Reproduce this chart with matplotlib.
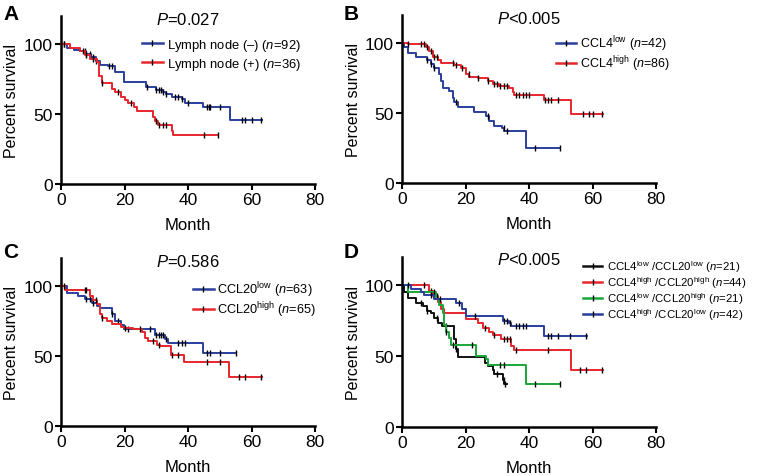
import numpy as np
import matplotlib.pyplot as plt
from matplotlib.lines import Line2D

plt.rcParams['font.family'] = ['Liberation Sans', 'DejaVu Sans']
plt.rcParams['mathtext.fontset'] = 'custom'
plt.rcParams['mathtext.rm'] = 'Liberation Sans'
plt.rcParams['mathtext.it'] = 'Liberation Sans:italic'

# ---- Panel A: lymph node status ----
a_neg_t = [0, 1.8, 4, 6, 8, 9.5, 11, 12.3, 14.9, 17, 19.8, 26.7, 30, 32, 33, 35, 38, 39, 44.6, 53.2]
a_neg_s = [100, 97, 96, 95, 93, 91, 88, 85, 84, 80, 73, 69, 67, 66, 64, 62, 61, 58, 55, 46]
a_neg_end = 63.2
a_neg_cens = [1, 7.5, 8, 9, 10, 11, 15, 16, 27, 30, 31, 31.5, 32, 33, 36, 37, 38, 40, 46, 46.5, 47, 50, 57, 58, 60, 63]

a_pos_t = [0, 2.8, 6, 7.5, 9, 11.2, 12, 12.8, 16, 17, 19, 20, 21, 23, 24, 29, 29.6, 30.7, 34.9, 35.4]
a_pos_s = [100, 97, 95, 92, 89, 87, 77, 72, 68, 66, 62, 60, 58, 55, 52, 48, 45, 42, 38, 35]
a_pos_end = 49.6
a_pos_cens = [1, 7, 8, 10, 13, 18, 22, 30, 31, 32, 33, 45, 49.6]

# ---- Panel B: CCL4 ----
b_low_t = [0, 0.7, 1.8, 4.4, 8, 9, 10, 11.8, 12.3, 12.8, 14.9, 16, 16.5, 17.5, 22.8, 26.5, 27.5, 29, 31.4, 32.2, 39]
b_low_s = [100, 97, 93, 90, 88, 85, 82, 78, 73, 68, 66, 61, 58, 54, 51, 48, 44, 41, 39, 37, 25]
b_low_end = 49.9
b_low_cens = [8, 9, 10, 17, 27, 32, 33, 42, 49.9]

b_high_t = [0, 1.8, 7.5, 8.6, 9.7, 11.2, 12.3, 16.5, 18.6, 20, 21.2, 23.8, 27, 28.6, 30.7, 33.8, 34.9, 35.4, 44.8, 53.2]
b_high_s = [100, 99, 97, 94, 90, 88, 86, 84, 82, 78, 76, 75, 73, 71, 69, 68, 65, 63, 59, 49]
b_high_end = 63.4
b_high_cens = [2, 6, 7, 8, 9, 10, 11, 16, 17, 19, 21, 24, 27, 29, 30, 31, 32, 33, 36, 37, 38, 39, 40, 45, 46, 47, 49, 57, 59, 60, 63]

# ---- Panel C: CCL20 ----
c_low_t = [0, 1.8, 5.5, 7.5, 9.7, 11.2, 12.3, 16, 17, 19, 19.8, 29.6, 32.7, 33.8, 44.8]
c_low_s = [100, 95, 93, 91, 88, 86, 84, 80, 75, 72, 69, 65, 62, 59, 52]
c_low_end = 55
c_low_cens = [8, 9, 10, 16, 18, 21, 28, 30, 31, 31.5, 32, 33, 37, 38, 39, 46, 47, 50, 55]

c_high_t = [0, 1.3, 9, 10, 11.2, 12.3, 12.8, 14.4, 16, 19, 20, 22.8, 25.4, 26.5, 27.5, 30.2, 31.2, 34.5, 38.7, 53]
c_high_s = [100, 97, 93, 90, 87, 80, 77, 75, 73, 71, 70, 69, 67, 63, 61, 58, 57, 51, 46, 35]
c_high_end = 63.2
c_high_cens = [1, 7.5, 8, 11, 13, 20, 25, 29, 31, 35, 37, 46, 50, 56, 58, 63]

# ---- Panel D: combined ----
d_ll_t = [0, 0.7, 1.8, 4.4, 6.5, 8, 9, 10, 11.2, 12.5, 16.5, 17, 17.5, 26, 27, 28.6, 29, 31.7, 32.2]
d_ll_s = [100, 95, 91, 87, 85, 82, 80, 77, 73, 71, 62, 55, 49, 45, 43, 40, 37, 33, 30]
d_ll_end = 33
d_ll_cens = [6, 8, 11, 14, 17, 30, 32, 32.5]

d_hh_t = [0, 8.6, 9.7, 11.2, 12.3, 13.3, 20.2, 23.8, 25.4, 27.5, 28.6, 31.2, 34.3, 35.4, 53.2]
d_hh_s = [100, 96, 92, 88, 83, 80, 76, 73, 70, 67, 65, 62, 57, 54, 40]
d_hh_end = 63.4
d_hh_cens = [7, 9, 11, 26, 29, 32, 33, 34, 36, 46, 56, 58, 63]

d_lh_t = [0, 1.8, 10.7, 11.8, 12.8, 13.3, 13.9, 14.9, 15.4, 23.3, 26.5, 27, 39]
d_lh_s = [100, 95, 90, 86, 80, 72, 67, 63, 58, 50, 48, 44, 30]
d_lh_end = 49.9
d_lh_cens = [10, 14, 16, 22, 31, 32, 42, 49.9]

d_hl_t = [0, 2.8, 6, 7, 10, 17, 19, 20.2, 31.7, 33.8, 34.3, 44.8]
d_hl_s = [100, 97, 95, 93, 90, 87, 83, 78, 75, 73, 71, 64]
d_hl_end = 58.3
d_hl_cens = [2, 9, 12, 18, 23, 32, 33, 34, 36, 37, 38, 39, 46, 47, 49, 53, 58]

p_texts = ['$P$=0.027', '$P$<0.005', '$P$=0.586', '$P$<0.005']

BLUE = '#2a3f9c'
RED = '#e8262b'
GREEN = '#1aa63a'
BLACK = '#111111'

fig = plt.figure(figsize=(7.57, 4.77), dpi=100)
W, H = 757.0, 477.0


def make_ax(x0, y0, y100):
    # x0: pixel of month 0, y0: pixel of 0 %, y100: pixel of 100 %
    pxm = 254.0 / 80
    pyp = (y0 - y100) / 100.0
    top = 120
    ax = fig.add_axes([x0 / W, 1 - y0 / H, 80 * pxm / W, top * pyp / H])
    ax.set_xlim(0, 80)
    ax.set_ylim(0, top)
    ax.spines['top'].set_visible(False)
    ax.spines['right'].set_visible(False)
    ax.spines['left'].set_linewidth(1.8)
    ax.spines['bottom'].set_linewidth(1.8)
    ax.set_xticks([0, 20, 40, 60, 80])
    ax.set_yticks([0, 50, 100])
    ax.tick_params(width=1.5, length=4, labelsize=12.5, pad=2)
    ax.set_xlabel('Month', fontsize=12, labelpad=7)
    ax.set_ylabel('Percent survival', fontsize=11.5, labelpad=3)
    return ax


def km(ax, t, s, end, cens, color):
    tt = list(t) + [end]
    ss = list(s) + [s[-1]]
    ax.step(tt, ss, where='post', color=color, lw=1.4, clip_on=False)
    idx = np.searchsorted(np.array(t), np.array(cens), side='right') - 1
    cy = np.array(s)[idx]
    ax.plot(cens, cy, ls='none', marker='|', ms=4, mew=1.0, color='k', clip_on=False)


def handle(color):
    return Line2D([], [], color=color, lw=1.8, marker='|', ms=4, mew=1.0, mec='k')


def leg(ax, colors, labels, x, y, size, spacing, hlen=1.6, pad=0.3):
    ax.legend([handle(c) for c in colors], labels,
              loc='upper left', bbox_to_anchor=(x, y), frameon=False,
              fontsize=size, handlelength=hlen, handletextpad=pad,
              labelspacing=spacing, borderaxespad=0, borderpad=0)


axA = make_ax(61, 185, 45)
km(axA, a_neg_t, a_neg_s, a_neg_end, a_neg_cens, BLUE)
km(axA, a_pos_t, a_pos_s, a_pos_end, a_pos_cens, RED)
leg(axA, [BLUE, RED],
    ['Lymph node (\u2013) ($n$=92)', 'Lymph node (+) ($n$=36)'],
    0.319, 0.875, 9.4, 0.2)

axB = make_ax(402, 184, 44)
km(axB, b_low_t, b_low_s, b_low_end, b_low_cens, BLUE)
km(axB, b_high_t, b_high_s, b_high_end, b_high_cens, RED)
leg(axB, [BLUE, RED],
    ['CCL4$^{\\mathrm{low}}$ ($n$=42)', 'CCL4$^{\\mathrm{high}}$ ($n$=86)'],
    0.606, 0.89, 9, 0.0)

axC = make_ax(61, 427, 287)
km(axC, c_low_t, c_low_s, c_low_end, c_low_cens, BLUE)
km(axC, c_high_t, c_high_s, c_high_end, c_high_cens, RED)
leg(axC, [BLUE, RED],
    ['CCL20$^{\\mathrm{low}}$ ($n$=63)', 'CCL20$^{\\mathrm{high}}$ ($n$=65)'],
    0.52, 0.87, 9.2, 0.0)

axD = make_ax(402, 428, 286)
km(axD, d_ll_t, d_ll_s, d_ll_end, d_ll_cens, BLACK)
km(axD, d_hh_t, d_hh_s, d_hh_end, d_hh_cens, RED)
km(axD, d_lh_t, d_lh_s, d_lh_end, d_lh_cens, GREEN)
km(axD, d_hl_t, d_hl_s, d_hl_end, d_hl_cens, BLUE)
leg(axD, [BLACK, RED, GREEN, BLUE],
    ['CCL4$^{\\mathrm{low}}$ /CCL20$^{\\mathrm{low}}$ ($n$=21)',
     'CCL4$^{\\mathrm{high}}$ /CCL20$^{\\mathrm{high}}$ ($n$=44)',
     'CCL4$^{\\mathrm{low}}$ /CCL20$^{\\mathrm{high}}$ ($n$=21)',
     'CCL4$^{\\mathrm{high}}$ /CCL20$^{\\mathrm{low}}$ ($n$=42)'],
    0.713, 0.99, 8.2, 0.0, hlen=1.7, pad=0.4)

for ax, txt in zip([axA, axB, axC, axD], p_texts):
    ax.text(40, 118, txt, ha='center', va='center', fontsize=12)

for lab, (x, y) in zip('ABCD', [(3, 14), (344, 14), (3, 253), (344, 253)]):
    fig.text(x / W, 1 - y / H, lab, fontsize=15, fontweight='bold', ha='left', va='center')

fig.savefig('out.png', dpi=100)
